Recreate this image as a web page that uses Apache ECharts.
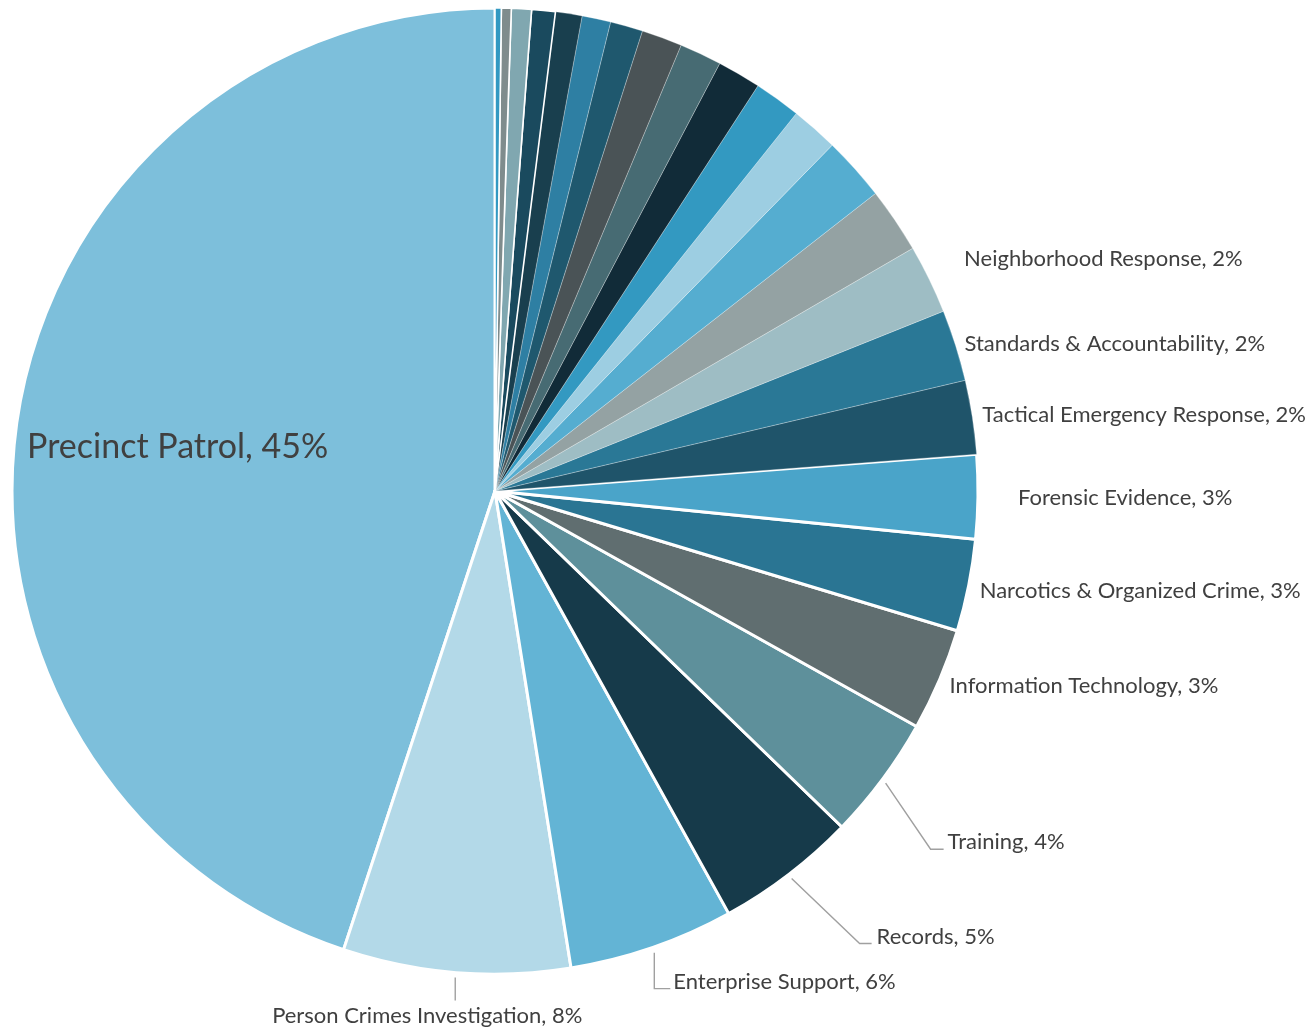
<!DOCTYPE html>
<html>
<head>
<meta charset="utf-8">
<title>Budget share by unit</title>
<script src="https://cdn.jsdelivr.net/npm/echarts@6/dist/echarts.min.js"></script>
<style>
  html, body { margin: 0; padding: 0; background: #ffffff; }
  #chart { width: 1311px; height: 1027px; }
</style>
</head>
<body>
<div id="chart"></div>
<script>
// Units, in drawing order (counter-clockwise from 12 o'clock)
const departments = [
  'Precinct Patrol',
  'Person Crimes Investigation',
  'Enterprise Support',
  'Records',
  'Training',
  'Information Technology',
  'Narcotics & Organized Crime',
  'Forensic Evidence',
  'Tactical Emergency Response',
  'Standards & Accountability',
  'Neighborhood Response',
  'Other unit 1',
  'Other unit 2',
  'Other unit 3',
  'Other unit 4',
  'Other unit 5',
  'Other unit 6',
  'Other unit 7',
  'Other unit 8',
  'Other unit 9',
  'Other unit 10',
  'Other unit 11',
  'Other unit 12',
  'Other unit 13',
  'Other unit 14'
];

// Share of the total, percent
const shares = [
  44.97, 7.60, 5.53, 4.72, 4.14, 3.44, 3.08, 2.81, 2.47, 2.39, 2.31,
  2.19, 2.14, 1.58, 1.56, 1.46, 1.41, 1.36, 1.09, 0.96, 0.89, 0.79, 0.67, 0.33, 0.21
];

// Units whose name and share are printed
const labelledUnits = departments.slice(0, 11);

// Slice fills, same order as the units
const sliceColors = [
  '#7dbfdb', '#b3d9e8', '#63b4d5', '#163a4a', '#5e909b', '#606e70', '#2a7593',
  '#4aa4c9', '#1f546a', '#2a7896', '#9ebdc4', '#94a2a3', '#55add0', '#9dcee2',
  '#3399c1', '#112b38', '#476b73', '#4a5356', '#1f586e', '#2e7fa3', '#193f4e',
  '#1a4a5e', '#80a7b0', '#7f8c8d', '#3399c2'
];

// Slices drawn with a wide white outline
const outlinedUnits = new Set([
  'Precinct Patrol', 'Person Crimes Investigation', 'Enterprise Support', 'Records',
  'Training', 'Information Technology', 'Narcotics & Organized Crime', 'Forensic Evidence',
  'Other unit 11', 'Other unit 12', 'Other unit 13', 'Other unit 14'
]);

// Label placement, relative to the point where the slice's mid-angle meets the rim
const labelNudges = {
  'Person Crimes Investigation': { line: [[-1, 5], [-1, 16], [-1, 28]], text: [-29, 43], align: 'center' },
  'Enterprise Support': { line: [[2, 5], [2, 41], [18, 41]], text: [21, 34] },
  'Records': { line: [[3, 4], [71, 69], [83, 69]], text: [88, 62] },
  'Training': { line: [[3, 4], [48, 70], [61, 70]], text: [65, 63] },
  'Information Technology': { text: [10, 6] },
  'Narcotics & Organized Crime': { text: [11, 5] },
  'Forensic Evidence': { text: [40, 1] },
  'Tactical Emergency Response': { text: [10, -2] },
  'Standards & Accountability': { text: [9, -1] },
  'Neighborhood Response': { text: [35, -20] }
};
const insideNudge = [-76, -5];

const total = shares.reduce((a, b) => a + b, 0);

const pieData = departments.map((name, i) => {
  const big = outlinedUnits.has(name);
  const wide = i < 8;
  const item = {
    name: name,
    value: shares[i],
    itemStyle: {
      color: sliceColors[i],
      borderColor: big ? '#ffffff' : 'rgba(255,255,255,0.45)',
      borderWidth: big ? (wide ? 3 : 1.6) : 0.6
    },
    label: { show: labelledUnits.includes(name) },
    labelLine: { show: !!(labelNudges[name] && labelNudges[name].line) }
  };
  if (name === 'Precinct Patrol') {
    item.label = { show: true, position: 'inside', fontSize: 34 };
  }
  return item;
});

const chart = echarts.init(document.getElementById('chart'), null, { renderer: 'canvas' });

chart.setOption({
  animation: false,
  backgroundColor: '#ffffff',
  series: [{
    type: 'pie',
    center: [495, 491],
    radius: 483,
    startAngle: 90,
    clockwise: false,
    avoidLabelOverlap: false,
    percentPrecision: 2,
    emphasis: { disabled: true },
    label: {
      position: 'outside',
      fontFamily: 'Lato',
      fontSize: 22,
      color: '#404040',
      overflow: 'none',
      formatter: p => p.name + ', ' + Math.round(p.value / total * 100) + '%'
    },
    labelLine: {
      length: 0,
      length2: 0,
      lineStyle: { color: '#a0a0a0', width: 1.4 }
    },
    labelLayout: function (params) {
      const name = departments[params.dataIndex];
      if (name === 'Precinct Patrol') {
        const r = params.labelRect;
        return {
          x: r.x + r.width / 2 + insideNudge[0],
          y: r.y + r.height / 2 + insideNudge[1],
          align: 'center',
          verticalAlign: 'middle'
        };
      }
      const nudge = labelNudges[name];
      if (!nudge || !params.labelLinePoints) return {};
      const p = params.labelLinePoints[0];
      const out = {
        x: p[0] + nudge.text[0],
        y: p[1] + nudge.text[1],
        align: nudge.align || 'left',
        verticalAlign: 'middle'
      };
      if (nudge.line) {
        out.labelLinePoints = nudge.line.map(d => [p[0] + d[0], p[1] + d[1]]);
      }
      return out;
    },
    data: pieData
  }]
});
</script>
</body>
</html>
